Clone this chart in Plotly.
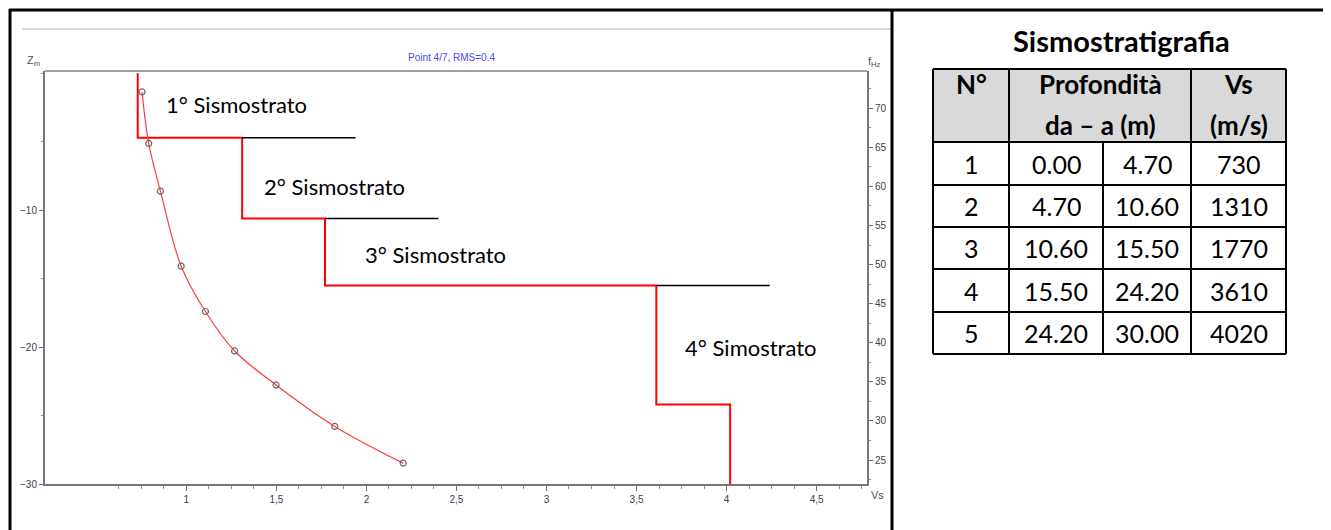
import plotly.graph_objects as go

# ---------------- data ----------------
layer_no = [1, 2, 3, 4, 5]
depth_from = [0.00, 4.70, 10.60, 15.50, 24.20]
depth_to = [4.70, 10.60, 15.50, 24.20, 30.00]
vs_ms = [730, 1310, 1770, 3610, 4020]

curve_vs = [0.754, 0.791, 0.856, 0.971, 1.106, 1.268, 1.498, 1.824, 2.204]
curve_f = [72.1, 65.5, 59.4, 49.8, 44.0, 38.95, 34.6, 29.3, 24.6]

layer_labels = ["1° Sismostrato", "2° Sismostrato", "3° Sismostrato", "4° Simostrato"]
label_x = [0.874, 1.42, 1.98, 3.76]
label_y = [-2.3, -8.3, -13.2, -20.0]

x_tickvals = [1, 1.5, 2, 2.5, 3, 3.5, 4, 4.5]
x_ticktext = ["1", "1,5", "2", "2,5", "3", "3,5", "4", "4,5"]
x_minorvals = [0.625, 0.75, 0.875, 1.125, 1.25, 1.375, 1.625, 1.75, 1.875,
               2.125, 2.25, 2.375, 2.625, 2.75, 2.875, 3.125, 3.25, 3.375,
               3.625, 3.75, 3.875, 4.125, 4.25, 4.375, 4.625, 4.75]
z_tickvals = [-10, -20, -30]
f_tickvals = [25, 30, 35, 40, 45, 50, 55, 60, 65, 70]
ext_len = 0.63  # length of black reference lines

# ---------------- layout geometry (page pixels) ----------------
OFF = 8                      # default body margin of the html page
W, H = 1331 - OFF, 530 - OFF
L, R, T, B = 45, 867, 71, 484  # plot area in page pixels


def px(x):
    return (x - L) / (R - L)


def py(y):
    return (B - y) / (B - T)


fig = go.Figure()

# step profile (km/s)
vs_km = [v / 1000 for v in vs_ms]
sx, sy = [], []
for i in range(len(vs_km)):
    sx += [vs_km[i], vs_km[i]]
    sy += [-depth_from[i], -depth_to[i]]
fig.add_trace(go.Scatter(x=sx, y=sy, mode="lines",
                         line=dict(color="#ff0000", width=2),
                         showlegend=False, hoverinfo="skip"))

# black reference lines
for i in range(3):
    x0 = vs_km[i + 1]
    fig.add_trace(go.Scatter(x=[x0, x0 + ext_len], y=[-depth_to[i], -depth_to[i]],
                             mode="lines", line=dict(color="black", width=1.5),
                             showlegend=False, hoverinfo="skip"))

# dispersion curve
fig.add_trace(go.Scatter(x=curve_vs, y=curve_f, yaxis="y2", mode="lines+markers",
                         line=dict(color="#ff3c3c", width=1.2, shape="spline"),
                         marker=dict(symbol="circle-open", size=6,
                                     color="#6a6a6a", line=dict(width=1.2, color="#6a6a6a")),
                         showlegend=False, hoverinfo="skip"))

tickfont = dict(family="Liberation Sans, Arial", size=10, color="#404058")

fig.update_layout(
    width=W, height=H, autosize=False,
    margin=dict(l=L - OFF, r=W - (R - OFF), t=T - OFF, b=H - (B - OFF)),
    paper_bgcolor="white", plot_bgcolor="white",
    xaxis=dict(range=[0.215, 4.78], tickvals=x_tickvals, ticktext=x_ticktext,
               ticks="outside", ticklen=5, tickcolor="#707070", tickwidth=1,
               minor=dict(tickmode="array", tickvals=x_minorvals, ticks="outside",
                          ticklen=3, tickcolor="#909090"),
               showline=True, linecolor="#777777", linewidth=2, mirror=False,
               showgrid=False, zeroline=False, tickfont=tickfont),
    yaxis=dict(range=[-30, 0.17], tickvals=z_tickvals,
               ticks="outside", ticklen=4, tickcolor="#707070",
               minor=dict(dtick=5, tick0=0, ticks="outside", ticklen=2, tickcolor="#909090"),
               showline=True, linecolor="#777777", linewidth=2,
               showgrid=False, zeroline=False, tickfont=tickfont),
    yaxis2=dict(range=[21.93, 74.77], overlaying="y", side="right", tickvals=f_tickvals,
                ticks="outside", ticklen=4, tickcolor="#707070",
                minor=dict(dtick=2.5, tick0=0, ticks="outside", ticklen=2, tickcolor="#909090"),
                showline=True, linecolor="#777777", linewidth=2,
                showgrid=False, zeroline=False, tickfont=tickfont),
)


def pa(x, y, text, font, xa="center", ya="middle"):
    return dict(x=px(x), y=py(y), xref="paper", yref="paper", text=text,
                showarrow=False, xanchor=xa, yanchor=ya, font=font)


ann = []
# stratum labels
for t, x, y in zip(layer_labels, label_x, label_y):
    ann.append(dict(x=x, y=y, xref="x", yref="y", text=t, showarrow=False,
                    xanchor="left", yanchor="middle",
                    font=dict(family="Lato", size=22, color="black")))

small = dict(family="Liberation Sans, Arial", size=11, color="#505060")
ann.append(pa(451, 57, "Point 4/7, RMS=0.4",
              dict(family="Liberation Sans, Arial", size=10, color="#4848ff")))
ann.append(pa(33, 61, "Z<sub>m</sub>", small))
ann.append(pa(874, 62, "f<sub>Hz</sub>", small))
ann.append(pa(878, 495, "Vs", small))

# ---------------- table ----------------
col_edges = [933, 1009, 1103, 1191, 1286]
row_edges = [69, 142, 185, 227, 269, 312, 354]

shapes = []
# top frame of the plot area (lighter grey)
shapes.append(dict(type="line", xref="paper", yref="paper", x0=0, x1=1, y0=1, y1=1,
                   line=dict(color="#a0a0a0", width=2)))
shapes.append(dict(type="rect", xref="paper", yref="paper",
                   x0=px(col_edges[0]), x1=px(col_edges[-1]),
                   y0=py(row_edges[0]), y1=py(row_edges[1]),
                   fillcolor="#d9d9d9", line=dict(width=0), layer="below"))
for yy in row_edges:
    shapes.append(dict(type="line", xref="paper", yref="paper",
                       x0=px(col_edges[0]), x1=px(col_edges[-1]), y0=py(yy), y1=py(yy),
                       line=dict(color="black", width=2)))
for j, xx in enumerate(col_edges):
    ytop = row_edges[1] if j == 2 else row_edges[0]
    shapes.append(dict(type="line", xref="paper", yref="paper",
                       x0=px(xx), x1=px(xx), y0=py(ytop), y1=py(row_edges[-1]),
                       line=dict(color="black", width=2)))

# page borders
shapes.append(dict(type="line", xref="paper", yref="paper", x0=px(22), x1=px(892),
                   y0=py(29), y1=py(29), line=dict(color="#b4b4b4", width=1)))
for (x0, y0, x1, y1, w) in [(9, 10, 1327, 10, 3), (10, 9, 10, 530, 3),
                            (892, 9, 892, 530, 3), (1327, 9, 1327, 530, 2)]:
    shapes.append(dict(type="line", xref="paper", yref="paper",
                       x0=px(x0), x1=px(x1), y0=py(y0), y1=py(y1),
                       line=dict(color="black", width=w)))

bold = dict(family="Lato", size=26, color="black")
reg = dict(family="Lato", size=25, color="black")
ann.append(pa(1121, 40, "<b>Sismostratigrafia</b>", dict(family="Lato", size=29, color="black")))
cc = [(col_edges[i] + col_edges[i + 1]) / 2 for i in range(4)]
mid23 = (col_edges[1] + col_edges[3]) / 2
ann.append(pa(cc[0], 84, "<b>N°</b>", bold))
ann.append(pa(mid23, 84, "<b>Profondità</b>", bold))
ann.append(pa(mid23, 125, "<b>da – a (m)</b>", bold))
ann.append(pa(cc[3], 84, "<b>Vs</b>", bold))
ann.append(pa(cc[3], 125, "<b>(m/s)</b>", bold))

for i in range(len(layer_no)):
    yc = (row_edges[i + 1] + row_edges[i + 2]) / 2
    vals = [str(layer_no[i]), f"{depth_from[i]:.2f}", f"{depth_to[i]:.2f}", str(vs_ms[i])]
    for j, v in enumerate(vals):
        ann.append(pa(cc[j], yc, v, reg))

fig.update_layout(annotations=ann, shapes=shapes)
fig.write_html("out.html")
